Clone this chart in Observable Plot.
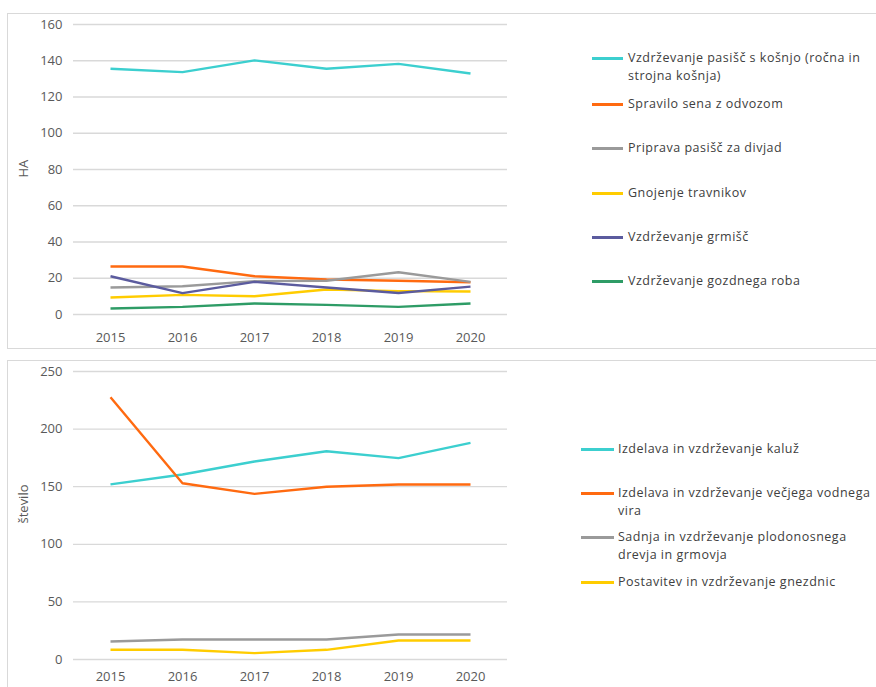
<!DOCTYPE html>
<html><head><meta charset="utf-8">
<script src="https://cdn.jsdelivr.net/npm/d3@7"></script>
<script src="https://cdn.jsdelivr.net/npm/@observablehq/plot@0.6"></script>
<style>
body{margin:0;background:#fff;font-family:"Open Sans",sans-serif;overflow:hidden;width:876px;height:687px;position:relative}
.panel{position:absolute;border:1px solid #d9d9d9;box-sizing:border-box;background:#fff}
.legend{position:absolute;font-family:"Open Sans",sans-serif;font-size:12.5px;color:#404040;letter-spacing:0.5px;line-height:18px}
.item{position:absolute;white-space:nowrap}
.sw{position:absolute;height:3px}
</style></head><body>
<div id="p1" class="panel" style="left:7px;top:13px;width:875px;height:336px"></div>
<div id="p2" class="panel" style="left:7px;top:360px;width:875px;height:340px"></div>
<script>
const years = [2015, 2016, 2017, 2018, 2019, 2020];

// Top panel (HA)
const topSeries = [
  "Vzdrževanje pasišč s košnjo (ročna in strojna košnja)",
  "Spravilo sena z odvozom",
  "Priprava pasišč za divjad",
  "Gnojenje travnikov",
  "Vzdrževanje grmišč",
  "Vzdrževanje gozdnega roba"
];
const topLegendLines = [
  ["Vzdrževanje pasišč s košnjo (ročna in", "strojna košnja)"],
  ["Spravilo sena z odvozom"],
  ["Priprava pasišč za divjad"],
  ["Gnojenje travnikov"],
  ["Vzdrževanje grmišč"],
  ["Vzdrževanje gozdnega roba"]
];
const topColors = ["#3ccfcf", "#ff6a10", "#9a9a9a", "#ffcc00", "#5b5b9e", "#2e9c66"];
const vKosnja   = [135.6, 133.7, 140.2, 135.6, 138.3, 133.0];
const vSeno     = [26.5, 26.5, 21.1, 19.3, 18.6, 17.8];
const vDivjad   = [14.9, 15.6, 18.4, 18.6, 23.3, 18.0];
const vGnojenje = [9.4, 10.8, 10.1, 13.8, 12.9, 12.7];
const vGrmisca  = [21.1, 11.8, 18.0, 14.9, 11.9, 15.4];
const vGozdni   = [3.3, 4.2, 6.1, 5.3, 4.2, 6.1];
const topValues = [vKosnja, vSeno, vDivjad, vGnojenje, vGrmisca, vGozdni];
const topTicks = [0, 20, 40, 60, 80, 100, 120, 140, 160];
const topLabel = "HA";

// Bottom panel (število)
const botSeries = [
  "Izdelava in vzdrževanje kaluž",
  "Izdelava in vzdrževanje večjega vodnega vira",
  "Sadnja in vzdrževanje plodonosnega drevja in grmovja",
  "Postavitev in vzdrževanje gnezdnic"
];
const botLegendLines = [
  ["Izdelava in vzdrževanje kaluž"],
  ["Izdelava in vzdrževanje večjega vodnega", "vira"],
  ["Sadnja in vzdrževanje plodonosnega", "drevja in grmovja"],
  ["Postavitev in vzdrževanje gnezdnic"]
];
const botColors = ["#3ccfcf", "#ff6a10", "#9a9a9a", "#ffcc00"];
const vKaluze    = [152, 160.6, 171.9, 180.8, 174.8, 188.1];
const vVodniVir  = [227.7, 153, 143.8, 149.9, 151.9, 151.9];
const vSadnja    = [15.6, 17.4, 17.4, 17.4, 21.7, 21.7];
const vGnezdnice = [8.4, 8.4, 5.5, 8.4, 16.5, 16.5];
const botValues = [vKaluze, vVodniVir, vSadnja, vGnezdnice];
const botTicks = [0, 50, 100, 150, 200, 250];
const botLabel = "število";

function toRows(series, values) {
  const rows = [];
  series.forEach((s, i) => years.forEach((y, j) => rows.push({series: s, year: y, value: values[i][j]})));
  return rows;
}

function makeChart(series, values, colors, ticks, label, opts) {
  const rows = toRows(series, values);
  return Plot.plot({
    width: 873, height: opts.height,
    marginLeft: 65, marginRight: 374, marginTop: opts.marginTop, marginBottom: opts.marginBottom,
    style: {fontFamily: "'Open Sans', sans-serif", fontSize: "13px", color: "#595959", background: "transparent"},
    x: {type: "point", domain: years, padding: 0.5},
    y: {domain: [ticks[0], ticks[ticks.length - 1]], ticks: ticks},
    color: {domain: series, range: colors},
    marks: [
      Plot.gridY(ticks, {stroke: "#d9d9d9", strokeOpacity: 1, strokeWidth: 1.3}),
      Plot.axisY({ticks: ticks, tickSize: 0, tickPadding: 11, label: null, fill: "#595959", fontSize: 13}),
      Plot.axisX({tickSize: 0, tickPadding: opts.xPad, label: null, tickFormat: d => String(d), fill: "#595959", fontSize: 13}),
      Plot.line(rows, {x: "year", y: "value", z: "series", stroke: "series", strokeWidth: 2.4, strokeLinejoin: "round", strokeLinecap: "butt"}),
      Plot.text([label], {frameAnchor: "left", dx: -50, dy: opts.labelDy, rotate: -90, fill: "#595959", fontSize: 13})
    ]
  });
}

const c1 = makeChart(topSeries, topValues, topColors, topTicks, topLabel, {height: 334, marginTop: 10, marginBottom: 34, xPad: 18, labelDy: 8});
const c2 = makeChart(botSeries, botValues, botColors, botTicks, botLabel, {height: 338, marginTop: 10, marginBottom: 40, xPad: 12, labelDy: 8});
document.getElementById("p1").appendChild(c1);
document.getElementById("p2").appendChild(c2);

function legend(panelId, lines, colors, swX, swW, textX, ys) {
  const el = document.createElement("div");
  el.className = "legend";
  el.style.left = "0px"; el.style.top = "0px";
  lines.forEach((ls, i) => {
    const sw = document.createElement("div");
    sw.className = "sw";
    sw.style.left = swX + "px"; sw.style.width = swW + "px";
    sw.style.top = (ys[i] - 1.5) + "px";
    sw.style.background = colors[i];
    el.appendChild(sw);
    const t = document.createElement("div");
    t.className = "item";
    t.style.left = textX + "px";
    t.style.top = (ys[i] - 9) + "px";
    t.innerHTML = ls.join("<br>");
    el.appendChild(t);
  });
  document.getElementById(panelId).appendChild(el);
}
// positions relative to panel inner box (panel border at 7,13 / 7,360)
legend("p1", topLegendLines, topColors, 584, 31, 620, [44, 90, 134, 179, 223, 267]);
legend("p2", botLegendLines, botColors, 573, 33, 610, [88, 132, 176, 221]);
</script>
</body></html>
